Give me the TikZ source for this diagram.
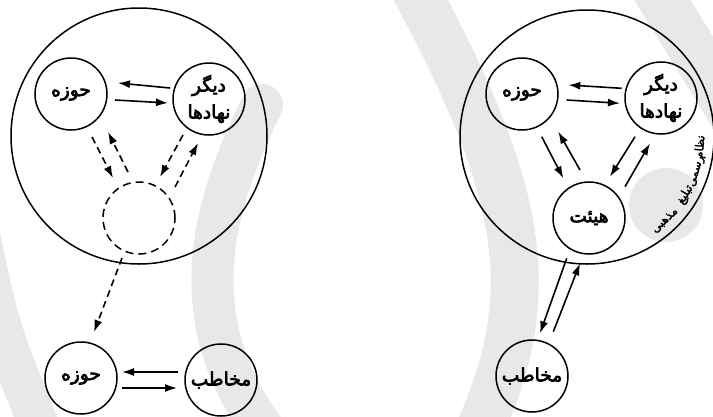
\documentclass[tikz,border=0pt]{standalone}
\usepackage{fontspec}
\usetikzlibrary{arrows.meta,calc}
\newfontfamily\fa[Script=Arabic,FakeBold=3.5]{DejaVu Sans}
\newfontfamily\fasmall[Script=Arabic,FakeBold=2.5]{DejaVu Sans}
\TeXXeTstate=1
\colorlet{wmark}{black!9}
\tikzset{
  ring/.style={circle, draw, line width=1.5pt, minimum size=72pt, inner sep=0pt,
    font=\fa\fontsize{18.5}{27}\selectfont, align=center},
  ghost/.style={ring, dash pattern=on 8pt off 5pt},
  sys/.style={circle, draw, line width=1.5pt, inner sep=0pt},
  arr/.style={-{Latex[length=12pt,width=8pt]}, line width=1.6pt},
  darr/.style={arr, dash pattern=on 7pt off 4.5pt},
  arcword/.style={anchor=base, inner sep=0pt, font=\fasmall\fontsize{11.5}{12}\selectfont},
  wstroke/.style={draw=wmark, line cap=round},
}
\begin{document}
\begin{tikzpicture}[x=1pt,y=1pt]
\useasboundingbox (0,0) rectangle (713,-416);

% ---- faint background logo ----
\begin{scope}[y=-1pt]
\draw[wstroke, line width=40pt] (-20,235) .. controls (0,330) .. (45,440);
\draw[wstroke, line width=42pt] (262,105) .. controls (215,200) and (175,320) .. (272,440);
\draw[wstroke, line width=48pt] (410,-20) .. controls (530,200) and (540,300) .. (475,440);
\draw[wstroke, line width=48pt] (650,-20) -- (730,110);
\fill[wmark] (666,205) circle (37);
\end{scope}

% ---- left panel: informal propagation ----
\node[sys, minimum size=256pt] (sysL) at (139,-136) {};
\node[ring] (hL) at (71,-94) {\beginR حوزه\endR};
\node[ring] (dL) at (209,-99) {\beginR دیگر\endR\\\beginR نهادها\endR};
\node[ghost] (eL) at (139,-218) {};
\node[ring] (hB) at (81,-378) {\beginR حوزه\endR};
\node[ring] (mB) at (221,-380) {\beginR مخاطب\endR};

\draw[arr] ([shift={(-39,11)}]dL.center) -- ([shift={(47,11)}]hL.center);
\draw[arr] ([shift={(44,-6)}]hL.center) -- ([shift={(-41,-4)}]dL.center);
\draw[darr] ([shift={(21,-43)}]hL.center) -- ([shift={(-26,40)}]eL.center);
\draw[darr] ([shift={(-11,46)}]eL.center) -- ([shift={(37,-38)}]hL.center);
\draw[darr] ([shift={(-26,-36)}]dL.center) -- ([shift={(21,41)}]eL.center);
\draw[darr] ([shift={(36,31)}]eL.center) -- ([shift={(-11,-44)}]dL.center);
\draw[darr] ([shift={(-17,-40)}]eL.center) -- ([shift={(13,46)}]hB.center);
\draw[arr] ([shift={(-43,8)}]mB.center) -- ([shift={(41,6)}]hB.center);
\draw[arr] ([shift={(41,-10)}]hB.center) -- ([shift={(-44,-8)}]mB.center);

% ---- right panel: formal system ----
\node[sys, minimum size=254pt] (sysR) at (587,-137) {};
\node[ring] (hR) at (522,-94) {\beginR حوزه\endR};
\node[ring] (dR) at (661,-98) {\beginR دیگر\endR\\\beginR نهادها\endR};
\node[ring] (hH) at (589,-218) {\beginR هیئت\endR};
\node[ring] (mR) at (532,-376) {\beginR مخاطب\endR};

\draw[arr] ([shift={(-39.3,9.7)}]dR.center) -- ([shift={(46.3,9)}]hR.center);
\draw[arr] ([shift={(44.7,-6)}]hR.center) -- ([shift={(-41,-5.3)}]dR.center);
\draw[arr] ([shift={(19.7,-42.7)}]hR.center) -- ([shift={(-25.7,39.7)}]hH.center);
\draw[arr] ([shift={(-9,48)}]hH.center) -- ([shift={(36.3,-37.7)}]hR.center);
\draw[arr] ([shift={(-26,-38.7)}]dR.center) -- ([shift={(21,41.3)}]hH.center);
\draw[arr] ([shift={(36,31.3)}]hH.center) -- ([shift={(-11,-45.3)}]dR.center);
\draw[arr] ([shift={(-22.3,-40.3)}]hH.center) -- ([shift={(8,42.7)}]mR.center);
\draw[arr] ([shift={(21.3,44.3)}]mR.center) -- ([shift={(-9,-45.3)}]hH.center);

% caption bent along the inner rim of the right system
\node[arcword, rotate=85] (w1) at ($(sysR.center)+(-5:117)$) {\beginR نظام\endR};
\node[arcword, rotate=72.5] (w2) at ($(sysR.center)+(-17.5:117)$) {\beginR رسمی\endR};
\node[arcword, rotate=59.5] (w3) at ($(sysR.center)+(-30.5:117)$) {\beginR تبلیغ\endR};
\node[arcword, rotate=43] (w4) at ($(sysR.center)+(-47:117)$) {\beginR مذهبی\endR};
\end{tikzpicture}
\end{document}
